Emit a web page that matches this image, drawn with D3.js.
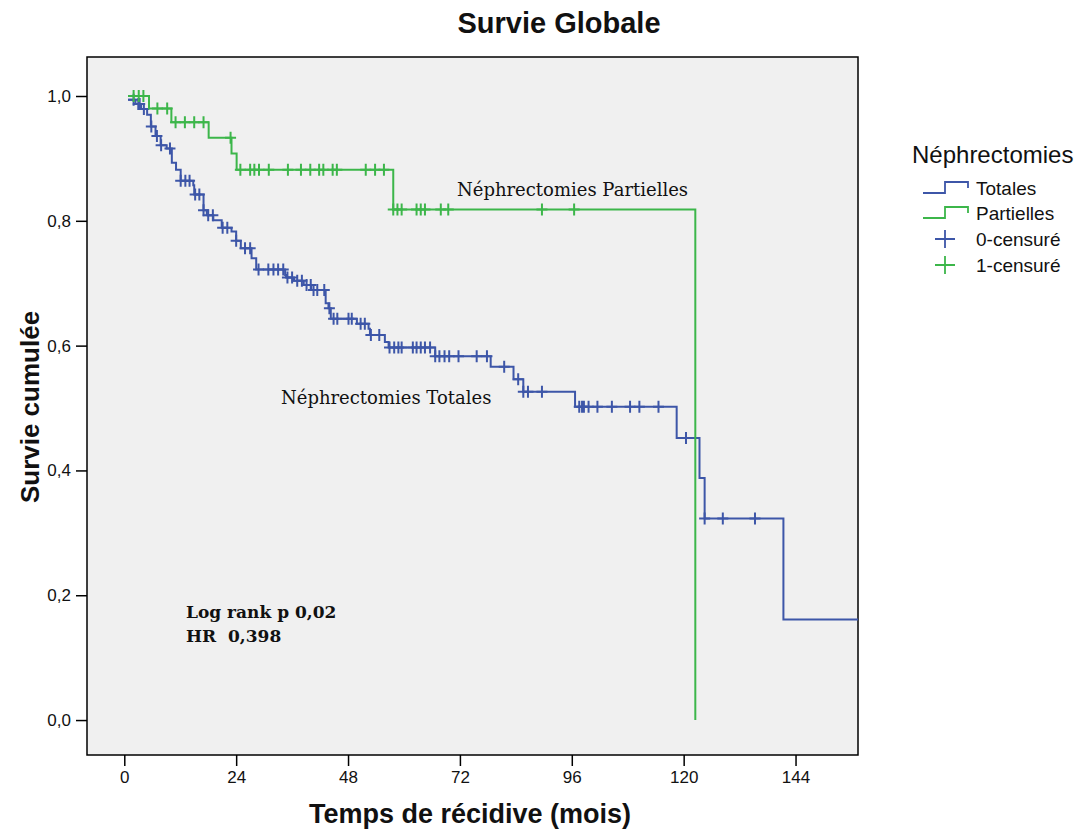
<!DOCTYPE html>
<html>
<head>
<meta charset="utf-8">
<script src="https://cdn.jsdelivr.net/npm/d3@7"></script>
<style>
  body { margin: 0; background: #fff; }
  svg text { font-family: "Liberation Sans", Arial, sans-serif; }
  .note { font-family: "DejaVu Serif", serif; fill: #111; }
</style>
</head>
<body>
<svg id="chart" width="1086" height="832"></svg>
<script>
// Kaplan-Meier steps: [time (mois), survie after the step]; first entry is the start of the curve
const totalesSteps = [
  [0.8, 0.994], [2.4, 0.987], [3.6, 0.979], [4.9, 0.970], [5.7, 0.951], [6.7, 0.936],
  [7.8, 0.921], [9.1, 0.916], [10.2, 0.893], [11.1, 0.882], [12.1, 0.864], [14.8, 0.857],
  [15.0, 0.842], [17.0, 0.817], [17.7, 0.809], [19.1, 0.801], [20.9, 0.789], [23.0, 0.783],
  [24.0, 0.768], [25.0, 0.756], [27.3, 0.740], [28.3, 0.722], [34.5, 0.713], [34.7, 0.709],
  [36.4, 0.704], [38.5, 0.697], [40.1, 0.689], [43.2, 0.668], [43.8, 0.660], [44.3, 0.643],
  [49.9, 0.635], [52.4, 0.627], [52.7, 0.617], [55.9, 0.606], [56.7, 0.597], [66.7, 0.583],
  [78.6, 0.566], [83.5, 0.546], [85.6, 0.526], [96.7, 0.502], [118.5, 0.452], [123.4, 0.388],
  [124.5, 0.323], [141.4, 0.161]
];
const totalesEnd = 157.4;
const totalesCensored = [
  2.0, 3.0, 3.3, 4.2, 5.8, 7.0, 7.9, 9.8, 12.1, 13.1, 14.0, 15.2, 16.1, 17.0, 18.0, 19.0,
  21.1, 22.1, 24.0, 25.9, 27.0, 28.8, 30.9, 32.0, 33.0, 34.1, 35.0, 36.0, 37.1, 38.1, 39.1,
  40.0, 40.6, 41.4, 42.9, 44.0, 44.9, 45.7, 48.1, 48.8, 50.7, 51.6, 52.9, 54.7, 56.9, 57.9,
  58.8, 59.5, 61.9, 62.7, 63.6, 64.5, 65.6, 66.7, 67.6, 68.7, 69.7, 71.7, 75.6, 77.8, 81.5,
  84.5, 85.6, 86.6, 89.6, 97.6, 98.2, 98.6, 99.6, 101.5, 104.6, 108.5, 110.5, 114.6, 120.5,
  124.5, 128.4, 135.3
];

const partiellesSteps = [
  [0.8, 1.0], [5.3, 0.980], [10.1, 0.958], [18.1, 0.933], [23.0, 0.908], [24.1, 0.882],
  [57.7, 0.818], [122.5, 0.0]
];
const partiellesEnd = 122.5;
const partiellesCensored = [
  2.0, 3.1, 4.1, 7.1, 9.2, 11.0, 13.0, 15.0, 17.0, 22.8, 24.9, 27.0, 27.9, 28.9, 31.0, 35.1,
  37.9, 39.9, 41.8, 42.7, 44.7, 45.6, 51.8, 53.8, 55.7, 57.7, 58.6, 59.5, 62.7, 63.6, 64.5,
  67.9, 69.5, 89.6, 96.5
];

const xTicks = [0, 24, 48, 72, 96, 120, 144];
const yTicks = [0, 0.2, 0.4, 0.6, 0.8, 1.0];
const legendLabels = ["Totales", "Partielles", "0-censuré", "1-censuré"];

const BLUE = "#3d56a8";
const GREEN = "#3cb64a";

const svg = d3.select("#chart");
const plot = { left: 87, right: 858, top: 57, bottom: 755 };

const x = d3.scaleLinear().domain([-8, 157.4]).range([plot.left, plot.right]);
const y = d3.scaleLinear().domain([-0.056, 1.0625]).range([plot.bottom, plot.top]);

// plot background + frame
svg.append("rect")
  .attr("x", plot.left).attr("y", plot.top)
  .attr("width", plot.right - plot.left).attr("height", plot.bottom - plot.top)
  .attr("fill", "#f0f0f0").attr("stroke", "#000").attr("stroke-width", 1.5);

// axes
const fmt = d => d3.format(".1f")(d).replace(".", ",");
const xAxis = svg.append("g")
  .attr("transform", `translate(0,${plot.bottom})`)
  .call(d3.axisBottom(x).tickValues(xTicks).tickSize(11).tickSizeOuter(0).tickPadding(5));
const yAxis = svg.append("g")
  .attr("transform", `translate(${plot.left},0)`)
  .call(d3.axisLeft(y).tickValues(yTicks).tickFormat(fmt).tickSize(11).tickSizeOuter(0).tickPadding(5));

for (const ax of [xAxis, yAxis]) {
  ax.attr("font-size", null).attr("font-family", null);
  ax.select(".domain").remove();
  ax.selectAll(".tick line").attr("stroke", "#000").attr("stroke-width", 1.5);
  ax.selectAll(".tick text").attr("fill", "#111").style("font-size", "17px");
}

// step path from KM table
function stepPath (steps, end) {
  const pts = [[steps[0][0], steps[0][1]]];
  for (let i = 1; i < steps.length; i++) {
    pts.push([steps[i][0], steps[i - 1][1]]);
    pts.push([steps[i][0], steps[i][1]]);
  }
  pts.push([end, steps[steps.length - 1][1]]);
  return d3.line().x(d => x(d[0])).y(d => y(d[1]))(pts);
}

function survivalAt (steps, t) {
  let s = steps[0][1];
  for (const st of steps) if (st[0] <= t) s = st[1];
  return s;
}

function drawCurve (steps, end, censored, color) {
  svg.append("path")
    .attr("d", stepPath(steps, end))
    .attr("fill", "none").attr("stroke", color).attr("stroke-width", 2);

  const g = svg.append("g").attr("stroke", color).attr("stroke-width", 2);
  g.selectAll("path.cens")
    .data(censored)
    .join("path")
      .attr("class", "cens")
      .attr("d", t => {
        const cx = x(t), cy = y(survivalAt(steps, t));
        return `M${cx - 5.5},${cy}H${cx + 5.5}M${cx},${cy - 6}V${cy + 6}`;
      });
}

drawCurve(totalesSteps, totalesEnd, totalesCensored, BLUE);
drawCurve(partiellesSteps, partiellesEnd, partiellesCensored, GREEN);

// annotations
svg.append("text").attr("class", "note").attr("x", 457).attr("y", 196)
  .style("font-size", "18px").text("Néphrectomies Partielles");
svg.append("text").attr("class", "note").attr("x", 281).attr("y", 404)
  .style("font-size", "18px").text("Néphrectomies Totales");
svg.append("text").attr("class", "note").attr("x", 186).attr("y", 618)
  .style("font-size", "17px").style("font-weight", "bold").text("Log rank p 0,02");
svg.append("text").attr("class", "note").attr("x", 186).attr("y", 642)
  .style("font-size", "17px").style("font-weight", "bold")
  .attr("xml:space", "preserve").text("HR  0,398");

// titles
svg.append("text").attr("x", 559).attr("y", 33).attr("text-anchor", "middle")
  .style("font-size", "29px").style("font-weight", "bold").attr("fill", "#111").text("Survie Globale");
svg.append("text").attr("x", 470).attr("y", 823).attr("text-anchor", "middle")
  .style("font-size", "27px").style("font-weight", "bold").attr("fill", "#111").text("Temps de récidive (mois)");
svg.append("text").attr("transform", "translate(39,407) rotate(-90)").attr("text-anchor", "middle")
  .style("font-size", "26px").style("font-weight", "bold").attr("fill", "#111").text("Survie cumulée");

// legend
const legend = svg.append("g");
legend.append("text").attr("x", 912).attr("y", 163).style("font-size", "24px").attr("fill", "#111").text("Néphrectomies");
const lgColors = [BLUE, GREEN];
lgColors.forEach((c, i) => {
  const yy = 193 + i * 25;
  legend.append("path")
    .attr("d", `M923,${yy}H945V${yy - 11}H968V${yy - 5}`)
    .attr("fill", "none").attr("stroke", c).attr("stroke-width", 1.8);
});
lgColors.forEach((c, i) => {
  const cx = 945, cy = 239 + i * 26;
  legend.append("path")
    .attr("d", `M${cx - 10},${cy}H${cx + 10}M${cx},${cy - 9}V${cy + 9}`)
    .attr("stroke", c).attr("stroke-width", 1.8);
});
legend.selectAll("text.item")
  .data(legendLabels)
  .join("text")
    .attr("class", "item")
    .attr("x", 976)
    .attr("y", (d, i) => [195, 220, 246, 272][i])
    .style("font-size", "19px").attr("fill", "#111")
    .text(d => d);
</script>
</body>
</html>
